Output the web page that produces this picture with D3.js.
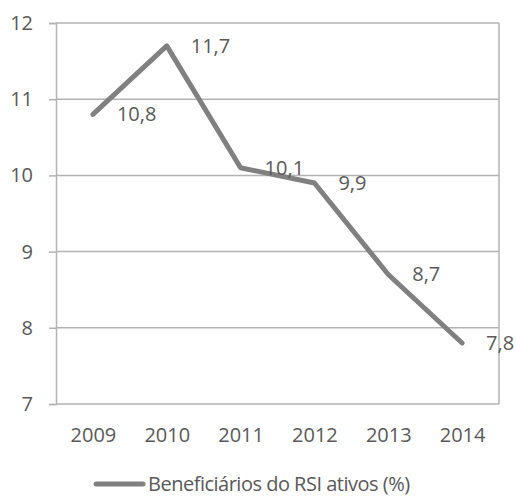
<!DOCTYPE html>
<html>
<head>
<meta charset="utf-8">
<script src="https://cdn.jsdelivr.net/npm/d3@7"></script>
<style>
  body { margin: 0; background: #fff; }
  text { font-family: "Open Sans", sans-serif; fill: #595959; }
</style>
</head>
<body>
<svg id="chart" width="516" height="498"></svg>
<script>
var years = ["2009", "2010", "2011", "2012", "2013", "2014"];
var values = [10.8, 11.7, 10.1, 9.9, 8.7, 7.8];
var labels = ["10,8", "11,7", "10,1", "9,9", "8,7", "7,8"];
var yTicks = [7, 8, 9, 10, 11, 12];
var seriesName = "Beneficiários do RSI ativos (%)";

var svg = d3.select("#chart");
var margin = {top: 23, right: 17, bottom: 94, left: 56};
var width = 516 - margin.left - margin.right,
    height = 498 - margin.top - margin.bottom;

var g = svg.append("g").attr("transform", "translate(" + margin.left + "," + margin.top + ")");

var x = d3.scalePoint().domain(years).range([0, width]).padding(0.5);
var y = d3.scaleLinear().domain([7, 12]).range([height, 0]);

// gridlines
g.selectAll(".grid").data(yTicks).enter().append("line")
    .attr("x1", 0).attr("x2", width)
    .attr("y1", function(d) { return y(d); })
    .attr("y2", function(d) { return y(d); })
    .attr("stroke", "#b3b3b3").attr("stroke-width", 1.5);

// right border
g.append("line")
    .attr("x1", width).attr("x2", width)
    .attr("y1", 0).attr("y2", height)
    .attr("stroke", "#b3b3b3").attr("stroke-width", 1.5);

var yAxis = g.append("g")
    .call(d3.axisLeft(y).tickValues(yTicks).tickSize(7).tickPadding(16).tickFormat(d3.format("d")));
yAxis.select(".domain").attr("stroke", "#b3b3b3").attr("stroke-width", 1.5);
yAxis.selectAll(".tick line").attr("stroke", "#b3b3b3").attr("stroke-width", 1.5);
yAxis.selectAll("text").style("font-size", "20px").attr("fill", "#595959");

var xAxis = g.append("g").attr("transform", "translate(0," + height + ")")
    .call(d3.axisBottom(x).tickSize(0).tickPadding(24));
xAxis.select(".domain").remove();
xAxis.selectAll("text").style("font-size", "20px").attr("fill", "#595959");

var line = d3.line()
    .x(function(d, i) { return x(years[i]); })
    .y(function(d) { return y(d); });

g.append("path").datum(values)
    .attr("d", line)
    .attr("fill", "none")
    .attr("stroke", "#808080")
    .attr("stroke-width", 5)
    .attr("stroke-linejoin", "round")
    .attr("stroke-linecap", "round");

g.selectAll(".lbl").data(values).enter().append("text")
    .attr("x", function(d, i) { return x(years[i]) + 24; })
    .attr("y", function(d) { return y(d); })
    .attr("dy", "0.35em")
    .style("font-size", "20px")
    .text(function(d, i) { return labels[i]; });

// legend
var leg = svg.append("g").attr("transform", "translate(96,484)");
leg.append("line").attr("x1", 0).attr("x2", 47).attr("y1", 0).attr("y2", 0)
    .attr("stroke", "#808080").attr("stroke-width", 5).attr("stroke-linecap", "round");
leg.append("text").attr("x", 52).attr("y", 0).attr("dy", "0.33em")
    .style("font-size", "20px").style("letter-spacing", "-0.5px").text(seriesName);
</script>
</body>
</html>
